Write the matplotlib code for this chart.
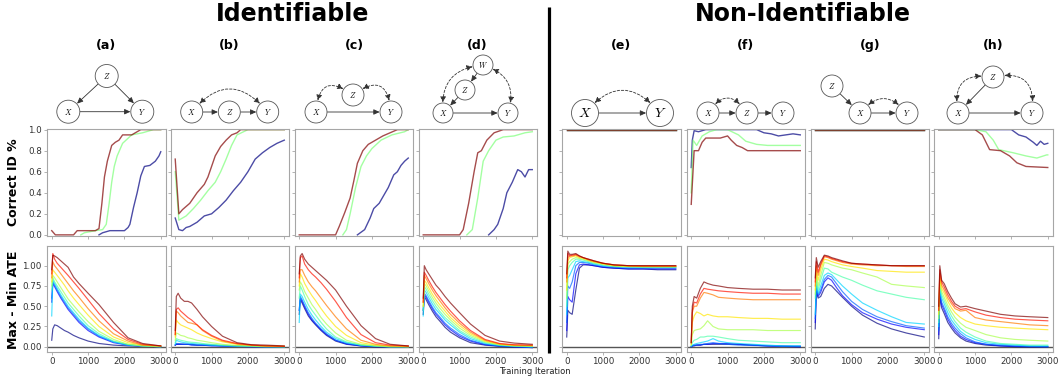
import matplotlib
matplotlib.use("Agg")
import matplotlib.pyplot as plt
from matplotlib.patches import Circle, FancyArrowPatch
from matplotlib.ticker import FormatStrFormatter

plt.rcParams['mathtext.fontset'] = 'cm'

# ------------------------------------------------------------------ data
panel_tags = ['(a)', '(b)', '(c)', '(d)', '(e)', '(f)', '(g)', '(h)']
group_titles = ['Identifiable', 'Non-Identifiable']
xticks_vals = [0, 1000, 2000, 3000]
id_yticks = [0.0, 0.2, 0.4, 0.6, 0.8, 1.0]
ate_yticks = [0.00, 0.25, 0.50, 0.75, 1.00]

# Correct ID %  : per panel, [blue, green, red] curves as (iterations, values)
id_a = [([1300, 1400, 1600, 2000, 2100, 2150, 2250, 2350, 2450, 2550, 2700, 2850, 2950, 3000],
         [0.0, 0.02, 0.04, 0.04, 0.07, 0.10, 0.26, 0.40, 0.56, 0.65, 0.66, 0.70, 0.75, 0.79]),
        ([800, 900, 1200, 1400, 1500, 1580, 1650, 1720, 1800, 1950, 2200, 2500, 2800, 3000],
         [0.0, 0.02, 0.04, 0.05, 0.10, 0.30, 0.50, 0.65, 0.75, 0.87, 0.95, 0.97, 1.0, 1.0]),
        ([0, 100, 600, 700, 1200, 1300, 1380, 1450, 1530, 1650, 1750, 1850, 1950, 2200, 2350, 2450, 3000],
         [0.04, 0.0, 0.0, 0.04, 0.04, 0.06, 0.30, 0.55, 0.70, 0.85, 0.88, 0.90, 0.95, 0.95, 0.98, 1.0, 1.0])]
id_b = [([0, 100, 200, 300, 400, 600, 800, 1000, 1200, 1400, 1600, 1800, 2000, 2200, 2400, 2600, 2800, 3000],
         [0.16, 0.05, 0.04, 0.07, 0.08, 0.12, 0.18, 0.20, 0.26, 0.33, 0.42, 0.50, 0.60, 0.72, 0.78, 0.83, 0.87, 0.90]),
        ([0, 100, 300, 500, 700, 900, 1100, 1250, 1400, 1550, 1700, 2000, 3000],
         [0.60, 0.14, 0.18, 0.25, 0.33, 0.42, 0.50, 0.60, 0.72, 0.85, 0.95, 1.0, 1.0]),
        ([0, 100, 200, 400, 600, 800, 900, 1000, 1100, 1250, 1400, 1550, 1700, 1800, 3000],
         [0.72, 0.20, 0.24, 0.30, 0.40, 0.48, 0.55, 0.65, 0.75, 0.84, 0.90, 0.95, 0.97, 1.0, 1.0])]
id_c = [([1600, 1800, 1950, 2050, 2200, 2300, 2450, 2600, 2700, 2800, 2900, 3000],
         [0.0, 0.05, 0.16, 0.25, 0.30, 0.36, 0.45, 0.57, 0.60, 0.66, 0.70, 0.73]),
        ([1200, 1300, 1400, 1550, 1700, 1850, 2000, 2250, 2550, 2900, 3000],
         [0.0, 0.05, 0.20, 0.45, 0.65, 0.75, 0.82, 0.90, 0.95, 0.98, 1.0]),
        ([0, 1000, 1100, 1250, 1400, 1500, 1600, 1750, 1900, 2050, 2300, 2500, 2700, 3000],
         [0.0, 0.0, 0.08, 0.21, 0.35, 0.51, 0.68, 0.80, 0.86, 0.89, 0.94, 0.97, 1.0, 1.0])]
id_d = [([1800, 1950, 2050, 2200, 2300, 2450, 2600, 2700, 2800, 2900, 3000],
         [0.0, 0.05, 0.10, 0.25, 0.40, 0.50, 0.62, 0.60, 0.55, 0.62, 0.62]),
        ([1200, 1350, 1500, 1650, 1800, 2000, 2200, 2500, 2800, 3000],
         [0.0, 0.05, 0.35, 0.70, 0.80, 0.90, 0.93, 0.94, 0.97, 0.98]),
        ([0, 1000, 1100, 1250, 1400, 1500, 1600, 1750, 1950, 2200, 3000],
         [0.0, 0.0, 0.05, 0.30, 0.60, 0.78, 0.80, 0.90, 0.97, 1.0, 1.0])]
id_e = [([0, 3000], [1.0, 1.0]), ([0, 3000], [1.0, 1.0]), ([0, 3000], [1.0, 1.0])]
id_f = [([0, 30, 80, 200, 400, 1800, 2000, 2200, 2400, 2600, 2800, 3000],
         [0.64, 0.90, 0.99, 0.98, 1.0, 1.0, 0.97, 0.96, 0.94, 0.95, 0.96, 0.95]),
        ([0, 50, 150, 200, 300, 500, 700, 1000, 1300, 1500, 1800, 2100, 2500, 3000],
         [0.40, 0.90, 0.85, 0.88, 0.94, 0.98, 1.0, 1.0, 0.95, 0.89, 0.86, 0.85, 0.85, 0.85]),
        ([0, 80, 200, 300, 400, 800, 1000, 1100, 1250, 1400, 1550, 3000],
         [0.29, 0.80, 0.80, 0.88, 0.92, 0.92, 0.94, 0.90, 0.85, 0.83, 0.80, 0.80])]
id_g = [([0, 3000], [1.0, 1.0]), ([0, 3000], [1.0, 1.0]), ([0, 3000], [1.0, 1.0])]
id_h = [([0, 2000, 2200, 2400, 2600, 2700, 2800, 2900, 3000],
         [1.0, 1.0, 0.95, 0.93, 0.88, 0.85, 0.89, 0.86, 0.87]),
        ([0, 1000, 1300, 1500, 1650, 2050, 2400, 2700, 2970, 3000],
         [1.0, 1.0, 0.98, 0.90, 0.81, 0.78, 0.75, 0.73, 0.76, 0.76]),
        ([0, 1000, 1200, 1400, 1700, 1950, 2150, 2400, 3000],
         [1.0, 1.0, 0.95, 0.81, 0.80, 0.75, 0.685, 0.65, 0.64])]

# Max - Min ATE : common iteration grid, 10 curves per panel (jet order, blue -> red)
ate_iters = [0, 30, 80, 150, 250, 350, 450, 600, 750, 1000, 1300, 1700, 2100, 2500, 3000]
ate_a = [[0.08, 0.22, 0.27, 0.26, 0.23, 0.20, 0.18, 0.14, 0.11, 0.07, 0.04, 0.02, 0.01, 0.005, 0.0],
         [0.55, 0.78, 0.74, 0.68, 0.60, 0.53, 0.46, 0.38, 0.30, 0.20, 0.12, 0.05, 0.02, 0.01, 0.0],
         [0.60, 0.80, 0.76, 0.70, 0.62, 0.55, 0.48, 0.40, 0.32, 0.22, 0.13, 0.06, 0.02, 0.01, 0.0],
         [0.38, 0.82, 0.78, 0.72, 0.64, 0.57, 0.50, 0.42, 0.34, 0.23, 0.14, 0.06, 0.02, 0.01, 0.0],
         [0.70, 0.85, 0.80, 0.75, 0.68, 0.61, 0.54, 0.46, 0.38, 0.26, 0.16, 0.07, 0.03, 0.01, 0.0],
         [0.75, 0.88, 0.85, 0.80, 0.73, 0.66, 0.59, 0.51, 0.43, 0.31, 0.19, 0.09, 0.03, 0.01, 0.0],
         [0.80, 0.95, 0.92, 0.88, 0.82, 0.76, 0.69, 0.60, 0.52, 0.39, 0.25, 0.12, 0.05, 0.02, 0.01],
         [0.85, 1.05, 1.00, 0.96, 0.90, 0.84, 0.78, 0.69, 0.61, 0.47, 0.32, 0.16, 0.07, 0.02, 0.01],
         [0.90, 1.15, 1.08, 1.03, 0.98, 0.93, 0.88, 0.80, 0.72, 0.58, 0.41, 0.22, 0.09, 0.03, 0.01],
         [0.95, 1.13, 1.12, 1.10, 1.06, 1.02, 0.98, 0.86, 0.78, 0.66, 0.52, 0.30, 0.11, 0.04, 0.01]]
ate_b = [[0.02, 0.03, 0.03, 0.03, 0.03, 0.03, 0.03, 0.02, 0.02, 0.02, 0.01, 0.01, 0.005, 0.0, 0.0],
         [0.02, 0.03, 0.03, 0.03, 0.03, 0.03, 0.02, 0.02, 0.02, 0.01, 0.01, 0.005, 0.0, 0.0, 0.0],
         [0.02, 0.04, 0.04, 0.035, 0.03, 0.03, 0.025, 0.02, 0.02, 0.015, 0.01, 0.005, 0.0, 0.0, 0.0],
         [0.03, 0.08, 0.07, 0.06, 0.05, 0.045, 0.04, 0.035, 0.03, 0.02, 0.015, 0.01, 0.005, 0.0, 0.0],
         [0.05, 0.10, 0.09, 0.08, 0.07, 0.06, 0.055, 0.05, 0.04, 0.03, 0.02, 0.01, 0.005, 0.0, 0.0],
         [0.08, 0.17, 0.16, 0.14, 0.13, 0.11, 0.10, 0.08, 0.07, 0.05, 0.03, 0.015, 0.01, 0.005, 0.0],
         [0.12, 0.33, 0.30, 0.27, 0.25, 0.23, 0.21, 0.17, 0.14, 0.10, 0.06, 0.03, 0.015, 0.01, 0.005],
         [0.15, 0.44, 0.42, 0.38, 0.34, 0.30, 0.29, 0.27, 0.20, 0.13, 0.07, 0.035, 0.02, 0.01, 0.005],
         [0.15, 0.46, 0.48, 0.44, 0.40, 0.36, 0.33, 0.27, 0.21, 0.14, 0.08, 0.04, 0.02, 0.01, 0.005],
         [0.20, 0.62, 0.66, 0.60, 0.56, 0.56, 0.54, 0.46, 0.37, 0.25, 0.13, 0.05, 0.025, 0.02, 0.01]]
ate_c = [[0.40, 0.58, 0.54, 0.47, 0.38, 0.32, 0.27, 0.20, 0.14, 0.07, 0.03, 0.01, 0.0, 0.0, 0.0],
         [0.45, 0.60, 0.56, 0.49, 0.40, 0.33, 0.28, 0.21, 0.15, 0.08, 0.035, 0.01, 0.0, 0.0, 0.0],
         [0.45, 0.62, 0.58, 0.51, 0.42, 0.35, 0.29, 0.22, 0.16, 0.08, 0.04, 0.015, 0.005, 0.0, 0.0],
         [0.30, 0.65, 0.62, 0.55, 0.46, 0.39, 0.33, 0.25, 0.18, 0.10, 0.05, 0.02, 0.005, 0.0, 0.0],
         [0.60, 0.75, 0.70, 0.62, 0.52, 0.45, 0.39, 0.30, 0.22, 0.12, 0.06, 0.02, 0.01, 0.0, 0.0],
         [0.70, 0.80, 0.76, 0.68, 0.60, 0.52, 0.46, 0.36, 0.28, 0.17, 0.08, 0.03, 0.01, 0.0, 0.0],
         [0.75, 0.90, 0.86, 0.78, 0.70, 0.63, 0.57, 0.47, 0.38, 0.25, 0.14, 0.05, 0.02, 0.01, 0.0],
         [0.80, 0.95, 0.95, 0.88, 0.80, 0.74, 0.69, 0.60, 0.51, 0.37, 0.22, 0.08, 0.03, 0.01, 0.005],
         [0.85, 1.10, 1.12, 1.02, 0.95, 0.90, 0.86, 0.79, 0.71, 0.56, 0.36, 0.15, 0.05, 0.02, 0.01],
         [0.90, 1.12, 1.15, 1.08, 1.02, 0.98, 0.94, 0.88, 0.82, 0.70, 0.50, 0.26, 0.10, 0.03, 0.01]]
ate_d = [[0.40, 0.62, 0.58, 0.52, 0.44, 0.37, 0.32, 0.24, 0.18, 0.11, 0.05, 0.02, 0.005, -0.005, -0.01],
         [0.45, 0.64, 0.61, 0.55, 0.47, 0.40, 0.35, 0.27, 0.21, 0.13, 0.07, 0.025, 0.01, 0.0, -0.01],
         [0.45, 0.66, 0.63, 0.57, 0.49, 0.42, 0.37, 0.29, 0.23, 0.15, 0.08, 0.03, 0.01, 0.0, -0.01],
         [0.38, 0.70, 0.67, 0.61, 0.53, 0.46, 0.41, 0.33, 0.27, 0.18, 0.10, 0.04, 0.015, 0.005, 0.0],
         [0.45, 0.74, 0.71, 0.65, 0.57, 0.50, 0.44, 0.36, 0.30, 0.20, 0.12, 0.05, 0.02, 0.01, 0.0],
         [0.50, 0.78, 0.75, 0.69, 0.61, 0.54, 0.48, 0.40, 0.33, 0.23, 0.14, 0.06, 0.025, 0.01, 0.01],
         [0.50, 0.82, 0.79, 0.73, 0.65, 0.58, 0.52, 0.44, 0.36, 0.26, 0.16, 0.07, 0.03, 0.015, 0.01],
         [0.55, 0.88, 0.84, 0.78, 0.70, 0.63, 0.57, 0.48, 0.40, 0.29, 0.18, 0.08, 0.035, 0.02, 0.015],
         [0.55, 0.92, 0.88, 0.82, 0.74, 0.67, 0.61, 0.52, 0.44, 0.32, 0.20, 0.09, 0.04, 0.025, 0.02],
         [0.60, 1.00, 0.95, 0.90, 0.83, 0.76, 0.71, 0.62, 0.54, 0.42, 0.28, 0.14, 0.07, 0.045, 0.03]]
ate_e = [[0.12, 0.45, 0.42, 0.40, 0.70, 0.97, 1.01, 1.01, 1.00, 0.98, 0.97, 0.96, 0.96, 0.95, 0.95],
         [0.20, 0.62, 0.58, 0.55, 0.90, 1.01, 1.02, 1.01, 1.00, 0.98, 0.97, 0.96, 0.96, 0.96, 0.96],
         [0.30, 0.75, 0.72, 0.80, 1.00, 1.04, 1.04, 1.03, 1.01, 0.99, 0.98, 0.97, 0.97, 0.97, 0.97],
         [0.40, 0.85, 0.88, 0.95, 1.05, 1.06, 1.05, 1.04, 1.02, 1.00, 0.99, 0.98, 0.98, 0.98, 0.98],
         [0.50, 0.95, 1.00, 1.04, 1.08, 1.08, 1.07, 1.05, 1.03, 1.01, 0.99, 0.99, 0.98, 0.98, 0.98],
         [0.60, 1.02, 1.05, 1.08, 1.10, 1.09, 1.08, 1.06, 1.04, 1.02, 1.00, 0.99, 0.99, 0.99, 0.99],
         [0.70, 1.06, 1.10, 1.11, 1.12, 1.10, 1.09, 1.07, 1.05, 1.02, 1.00, 0.99, 0.99, 0.99, 0.99],
         [0.80, 1.10, 1.12, 1.12, 1.13, 1.11, 1.10, 1.07, 1.05, 1.03, 1.01, 1.00, 0.99, 0.99, 0.99],
         [0.85, 1.15, 1.12, 1.13, 1.14, 1.12, 1.10, 1.08, 1.06, 1.03, 1.01, 1.00, 1.00, 1.00, 1.00],
         [0.90, 1.18, 1.14, 1.14, 1.15, 1.12, 1.10, 1.08, 1.06, 1.03, 1.01, 1.00, 1.00, 1.00, 1.00]]
ate_f = [[0.0, 0.01, 0.01, 0.02, 0.02, 0.03, 0.03, 0.03, 0.03, 0.03, 0.03, 0.02, 0.01, 0.005, 0.0],
         [0.0, 0.01, 0.02, 0.02, 0.02, 0.03, 0.03, 0.04, 0.04, 0.04, 0.03, 0.02, 0.01, 0.005, 0.0],
         [0.0, 0.01, 0.02, 0.02, 0.03, 0.03, 0.04, 0.05, 0.04, 0.03, 0.02, 0.015, 0.01, 0.01, 0.01],
         [0.01, 0.02, 0.03, 0.04, 0.05, 0.06, 0.07, 0.10, 0.07, 0.05, 0.04, 0.03, 0.02, 0.01, 0.01],
         [0.01, 0.05, 0.08, 0.09, 0.12, 0.12, 0.13, 0.13, 0.12, 0.10, 0.08, 0.07, 0.06, 0.05, 0.05],
         [0.02, 0.15, 0.20, 0.21, 0.22, 0.26, 0.32, 0.25, 0.22, 0.21, 0.21, 0.21, 0.20, 0.20, 0.20],
         [0.03, 0.30, 0.38, 0.43, 0.41, 0.38, 0.40, 0.38, 0.37, 0.37, 0.36, 0.35, 0.35, 0.34, 0.34],
         [0.05, 0.42, 0.50, 0.50, 0.60, 0.67, 0.66, 0.64, 0.61, 0.60, 0.59, 0.58, 0.58, 0.58, 0.58],
         [0.05, 0.45, 0.55, 0.54, 0.65, 0.72, 0.71, 0.70, 0.69, 0.68, 0.67, 0.66, 0.66, 0.65, 0.65],
         [0.05, 0.50, 0.62, 0.60, 0.72, 0.80, 0.78, 0.76, 0.75, 0.73, 0.72, 0.71, 0.71, 0.70, 0.70]]
ate_g = [[0.22, 0.68, 0.60, 0.62, 0.72, 0.77, 0.75, 0.68, 0.61, 0.50, 0.39, 0.29, 0.22, 0.17, 0.12],
         [0.30, 0.72, 0.62, 0.67, 0.80, 0.85, 0.82, 0.72, 0.63, 0.52, 0.42, 0.34, 0.28, 0.24, 0.21],
         [0.35, 0.75, 0.64, 0.70, 0.83, 0.88, 0.86, 0.77, 0.68, 0.56, 0.46, 0.37, 0.31, 0.26, 0.23],
         [0.40, 0.80, 0.66, 0.75, 0.88, 0.91, 0.89, 0.82, 0.75, 0.65, 0.54, 0.45, 0.37, 0.30, 0.28],
         [0.60, 0.85, 0.70, 0.82, 0.97, 0.96, 0.92, 0.89, 0.86, 0.82, 0.76, 0.69, 0.65, 0.61, 0.58],
         [0.65, 0.90, 0.75, 0.88, 1.04, 1.03, 1.01, 0.99, 0.97, 0.95, 0.91, 0.86, 0.77, 0.75, 0.73],
         [0.70, 0.95, 0.82, 0.95, 1.08, 1.07, 1.05, 1.03, 1.01, 0.99, 0.97, 0.94, 0.93, 0.92, 0.92],
         [0.75, 1.00, 0.88, 1.00, 1.11, 1.10, 1.08, 1.06, 1.04, 1.02, 1.01, 1.00, 1.00, 0.99, 0.99],
         [0.80, 1.05, 0.92, 1.02, 1.12, 1.11, 1.09, 1.07, 1.05, 1.03, 1.02, 1.01, 1.00, 1.00, 1.00],
         [0.85, 1.10, 0.98, 1.05, 1.13, 1.12, 1.10, 1.08, 1.06, 1.03, 1.02, 1.01, 1.00, 1.00, 1.00]]
ate_h = [[0.10, 0.62, 0.48, 0.41, 0.30, 0.23, 0.17, 0.11, 0.07, 0.04, 0.02, 0.01, 0.0, 0.0, 0.0],
         [0.15, 0.65, 0.52, 0.45, 0.34, 0.26, 0.20, 0.13, 0.09, 0.05, 0.03, 0.01, 0.005, 0.0, 0.0],
         [0.20, 0.68, 0.55, 0.48, 0.37, 0.29, 0.23, 0.16, 0.11, 0.06, 0.03, 0.02, 0.01, 0.005, 0.0],
         [0.25, 0.72, 0.60, 0.53, 0.42, 0.33, 0.27, 0.19, 0.14, 0.09, 0.05, 0.03, 0.02, 0.01, 0.01],
         [0.30, 0.76, 0.64, 0.57, 0.47, 0.38, 0.31, 0.23, 0.18, 0.12, 0.07, 0.04, 0.03, 0.02, 0.02],
         [0.35, 0.80, 0.68, 0.61, 0.51, 0.43, 0.36, 0.29, 0.24, 0.20, 0.15, 0.11, 0.09, 0.08, 0.07],
         [0.40, 0.85, 0.72, 0.66, 0.56, 0.48, 0.42, 0.36, 0.32, 0.28, 0.26, 0.24, 0.23, 0.22, 0.21],
         [0.45, 0.90, 0.76, 0.70, 0.60, 0.53, 0.47, 0.44, 0.45, 0.36, 0.33, 0.31, 0.29, 0.27, 0.26],
         [0.45, 0.95, 0.80, 0.74, 0.64, 0.56, 0.50, 0.46, 0.47, 0.43, 0.39, 0.36, 0.34, 0.33, 0.32],
         [0.50, 1.00, 0.82, 0.78, 0.68, 0.60, 0.53, 0.49, 0.50, 0.47, 0.44, 0.40, 0.38, 0.37, 0.36]]

id_panels = [id_a, id_b, id_c, id_d, id_e, id_f, id_g, id_h]
ate_panels = [ate_a, ate_b, ate_c, ate_d, ate_e, ate_f, ate_g, ate_h]

# ------------------------------------------------------------------ layout
W, H = 1058, 379
fig = plt.figure(figsize=(W / 100, H / 100), dpi=100)
jet = plt.get_cmap('jet')

panel_left = [47, 170.5, 294.5, 418.5, 562, 686.5, 810.5, 934]
panel_w = 118.5
top_y0, top_y1 = 129, 235.5
bot_y0, bot_y1 = 246, 352


def fig_rect(x0, y0, w, y1):
    return [x0 / W, 1 - y1 / H, w / W, (y1 - y0) / H]


def style(ax):
    for s in ax.spines.values():
        s.set_color('#a6a6a6')
        s.set_linewidth(0.8)
    ax.tick_params(length=2.5, width=0.6, color='#a6a6a6', labelsize=6.3,
                   labelcolor='#333333', pad=1.2)
    ax.set_xlim(-130, 3130)
    ax.set_xticks(xticks_vals)


for i in range(8):
    axt = fig.add_axes(fig_rect(panel_left[i], top_y0, panel_w, top_y1))
    style(axt)
    curves = id_panels[i]
    for k, (xs, ys) in enumerate(curves):
        axt.plot(xs, ys, color=jet(k / 2), lw=1.0, alpha=0.7)
    axt.set_ylim(-0.006, 1.006)
    axt.set_yticks(id_yticks)
    axt.set_xticklabels([])
    if i == 0:
        axt.yaxis.set_major_formatter(FormatStrFormatter('%.1f'))
    else:
        axt.set_yticklabels([])

    axb = fig.add_axes(fig_rect(panel_left[i], bot_y0, panel_w, bot_y1))
    style(axb)
    for k, ys in enumerate(ate_panels[i]):
        axb.plot(ate_iters, ys, color=jet(k / 9), lw=0.85, alpha=0.7)
    axb.axhline(0, color='#555555', lw=1.0, zorder=1)
    axb.set_ylim(-0.065, 1.243)
    axb.set_yticks(ate_yticks)
    if i == 0:
        axb.yaxis.set_major_formatter(FormatStrFormatter('%.2f'))
    else:
        axb.set_yticklabels([])

# ------------------------------------------------------------------ overlay (graphs, titles)
ov = fig.add_axes([0, 0, 1, 1], zorder=-1)
ov.set_xlim(0, W)
ov.set_ylim(H, 0)
ov.axis('off')

ov.text(293, 14, group_titles[0], ha='center', va='center', fontsize=17, weight='bold')
ov.text(803, 14, group_titles[1], ha='center', va='center', fontsize=17, weight='bold')
tag_x = [106, 229, 354, 477, 621, 746, 870, 993]
for tx, tg in zip(tag_x, panel_tags):
    ov.text(tx, 46, tg, ha='center', va='center', fontsize=9, weight='bold')
ov.plot([549, 549], [7, 353], color='black', lw=2.3, solid_capstyle='butt')
ov.text(14, 182, 'Correct ID %', rotation=90, ha='center', va='center', fontsize=9, weight='bold')
ov.text(14, 300, 'Max - Min ATE', rotation=90, ha='center', va='center', fontsize=9, weight='bold')
ov.text(535, 371, 'Training Iteration', ha='center', va='center', fontsize=6, color='#222222')


def node(name, x, y, r, fs=5.5):
    c = Circle((x, y), r, fc='white', ec='#555555', lw=0.6, zorder=3)
    ov.add_patch(c)
    ov.text(x, y, '$' + name + '$', ha='center', va='center', fontsize=fs, zorder=4)
    return c


def edge(a, b, rad=0.0, dashed=False):
    style_s = '<|-|>' if dashed else '-|>'
    arr = FancyArrowPatch(a.center, b.center, patchA=a, patchB=b,
                          arrowstyle=style_s + ',head_length=0.35,head_width=0.16',
                          mutation_scale=10, connectionstyle='arc3,rad=%g' % rad,
                          shrinkA=0.5, shrinkB=0.5, color='#333333', lw=0.6,
                          linestyle=(0, (3, 2)) if dashed else '-', zorder=2)
    ov.add_patch(arr)


# (a)
Z = node('Z', 106.7, 76, 11.5); X = node('X', 68.3, 111.7, 11.5); Y = node('Y', 142.3, 111.7, 11.5)
edge(Z, X); edge(Z, Y); edge(X, Y)
# (b)
X = node('X', 191.7, 112, 11); Z = node('Z', 229.3, 112, 11); Y = node('Y', 267.7, 112, 11)
edge(X, Z); edge(Z, Y); edge(X, Y, rad=-0.6, dashed=True)
# (c)
Z = node('Z', 353, 95, 11); X = node('X', 316, 112, 11); Y = node('Y', 391, 112, 11)
edge(X, Y); edge(Z, X, rad=0.9, dashed=True); edge(Z, Y, rad=-0.9, dashed=True)
# (d)
Wn = node('W', 483, 65, 10); Z = node('Z', 465, 90, 10); X = node('X', 443, 113, 10); Y = node('Y', 508, 113, 10)
edge(Wn, Z); edge(Z, X); edge(X, Y)
edge(Wn, X, rad=0.5, dashed=True); edge(Wn, Y, rad=-0.5, dashed=True)
# (e)
X = node('X', 585, 113, 13.5, fs=10); Y = node('Y', 660, 113, 13.5, fs=10)
edge(X, Y); edge(X, Y, rad=-0.6, dashed=True)
# (f)
X = node('X', 708, 113, 11); Z = node('Z', 747, 113, 11); Y = node('Y', 783, 113, 11)
edge(X, Z); edge(Z, Y); edge(X, Z, rad=-0.75, dashed=True)
# (g)
Z = node('Z', 832, 86, 11); X = node('X', 860, 113, 11); Y = node('Y', 907, 113, 11)
edge(Z, X); edge(X, Y); edge(X, Y, rad=-0.6, dashed=True)
# (h)
Z = node('Z', 993, 77, 11); X = node('X', 958, 113, 11); Y = node('Y', 1032, 113, 11)
edge(Z, X); edge(X, Y); edge(Z, X, rad=0.7, dashed=True); edge(Z, Y, rad=-0.7, dashed=True)

fig.savefig('out.png', dpi=100)
